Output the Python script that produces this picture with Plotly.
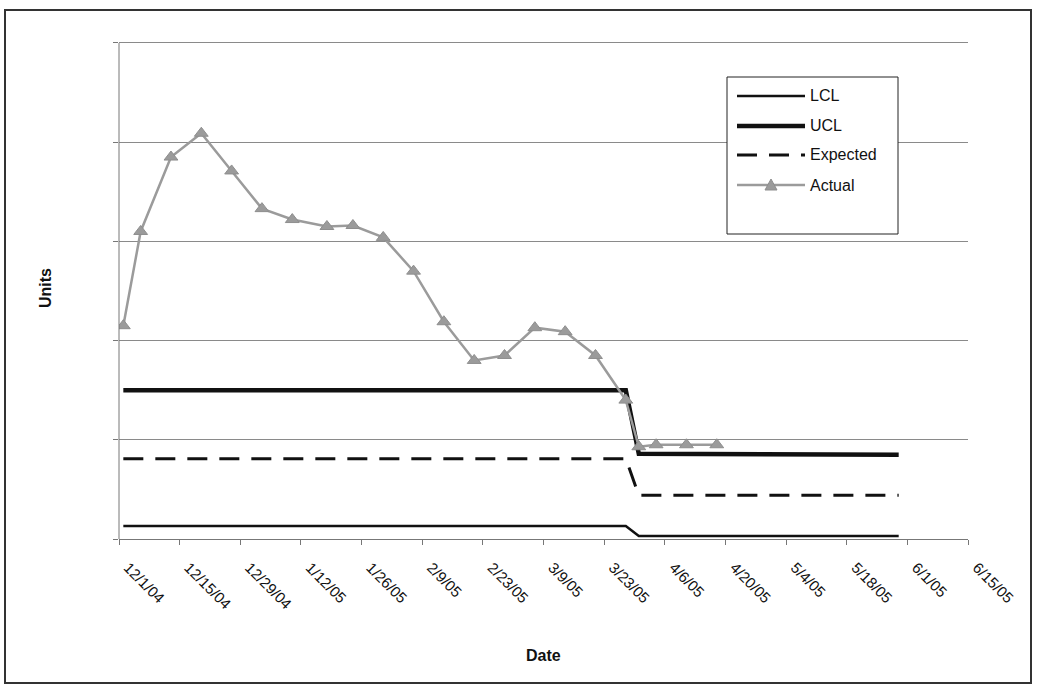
import plotly.graph_objects as go

# Weekly actual units
actual_dates = [
    "2004-12-02", "2004-12-06", "2004-12-13", "2004-12-20", "2004-12-27",
    "2005-01-03", "2005-01-10", "2005-01-18", "2005-01-24", "2005-01-31",
    "2005-02-07", "2005-02-14", "2005-02-21", "2005-02-28", "2005-03-07",
    "2005-03-14", "2005-03-21", "2005-03-28", "2005-03-31", "2005-04-04",
    "2005-04-11", "2005-04-18",
]
actual_units = [
    215, 310, 385, 409, 371,
    333, 322, 315, 316, 304,
    270, 219, 180, 185, 213,
    209, 185, 140, 93, 95,
    95, 95,
]

# Control limits and expected level (step change at end of March)
limit_dates = ["2004-12-02", "2005-03-28", "2005-03-31", "2005-05-30"]
lcl_units = [13, 13, 3, 3]
ucl_units = [150, 150, 86, 85]
expected_units = [81, 81, 44, 44]

tick_start = "2004-12-01"
x_end = "2005-06-15"
y_ticks = [0, 100, 200, 300, 400, 500]
y_top = 505

W, H = 1040, 694
L, R, T, B = 119, 72, 38, 155
pw, ph = W - L - R, H - T - B


def px(x):
    return (x - L) / pw


def py(y):
    return (H - B - y) / ph


FONT = "Liberation Sans, Arial, sans-serif"
GREY = "#9b9b9b"
AXIS = "#777777"

fig = go.Figure()
fig.add_trace(go.Scatter(x=limit_dates, y=lcl_units, name="LCL", mode="lines",
                         line=dict(color="#111111", width=2.5)))
fig.add_trace(go.Scatter(x=limit_dates, y=ucl_units, name="UCL", mode="lines",
                         line=dict(color="#111111", width=4.5)))
fig.add_trace(go.Scatter(x=limit_dates, y=expected_units, name="Expected", mode="lines",
                         line=dict(color="#111111", width=3, dash="20px,12px")))
fig.add_trace(go.Scatter(x=actual_dates, y=actual_units, name="Actual", mode="lines+markers",
                         line=dict(color=GREY, width=2.5),
                         marker=dict(symbol="triangle-up", size=12, color=GREY,
                                     line=dict(color="#8e8e8e", width=1))))

fig.update_layout(
    width=W, height=H,
    margin=dict(l=L, r=R, t=T, b=B, pad=0),
    paper_bgcolor="white", plot_bgcolor="white",
    showlegend=False,
    font=dict(family=FONT, size=14, color="#111111"),
)
fig.update_xaxes(
    type="date", range=[tick_start, x_end],
    tick0=tick_start, dtick=14 * 86400000, tickformat="%-m/%-d/%y",
    tickangle=45, ticks="outside", ticklen=5, tickcolor=AXIS,
    ticklabelstandoff=8, ticklabelshift=9,
    showline=True, linecolor=AXIS, linewidth=1,
    showgrid=False, zeroline=False,
    tickfont=dict(family=FONT, size=15, color="#111111"),
)
fig.update_yaxes(
    range=[0, y_top], tickvals=y_ticks, showticklabels=False,
    ticks="outside", ticklen=5, tickcolor=AXIS,
    showline=False,
    showgrid=True, gridcolor="#8a8a8a", gridwidth=1, zeroline=False,
)

# Axis titles
fig.add_annotation(text="<b>Date</b>", x=px(543), y=py(655), xref="paper", yref="paper",
                   xanchor="center", yanchor="middle",
                   showarrow=False, font=dict(family=FONT, size=16, color="#111111"))
fig.add_annotation(text="<b>Units</b>", x=px(45), y=py(288), xref="paper", yref="paper",
                   xanchor="center", yanchor="middle",
                   showarrow=False, textangle=-90, font=dict(family=FONT, size=16, color="#111111"))

shapes = []
# Value axis line, running up to the top gridline only
shapes.append(dict(type="line", xref="paper", yref="y", x0=0, x1=0,
                   y0=y_ticks[0], y1=y_ticks[-1], line=dict(color=AXIS, width=1)))
# Outer chart frame
shapes.append(dict(type="rect", xref="paper", yref="paper",
                   x0=px(5), x1=px(1031), y0=py(683), y1=py(10),
                   line=dict(color="#333333", width=2), layer="below"))

# Legend box with line samples
lx0, lx1, ly0, ly1 = 727, 898, 77, 234
shapes.append(dict(type="rect", xref="paper", yref="paper",
                   x0=px(lx0), x1=px(lx1), y0=py(ly1), y1=py(ly0),
                   fillcolor="white", line=dict(color="#222222", width=1)))
rows = [96, 126, 155, 185]
styles = [
    dict(color="#111111", width=2.5),
    dict(color="#111111", width=4.5),
    dict(color="#111111", width=3, dash="20px,12px"),
    dict(color=GREY, width=2.5),
]
names = [tr.name for tr in fig.data]
for yrow, st, nm in zip(rows, styles, names):
    shapes.append(dict(type="line", xref="paper", yref="paper",
                       x0=px(737), x1=px(805), y0=py(yrow), y1=py(yrow), line=st))
    fig.add_annotation(text=nm, x=px(808), y=py(yrow), xref="paper", yref="paper",
                       xanchor="left", yanchor="middle", showarrow=False,
                       font=dict(family=FONT, size=16, color="#111111"))
# marker on the Actual sample
shapes.append(dict(type="path", xref="paper", yref="paper",
                   path="M {a},{b} L {c},{d} L {e},{f} Z".format(
                       a=px(765), b=py(rows[3] + 5), c=px(771), d=py(rows[3] - 6),
                       e=px(777), f=py(rows[3] + 5)),
                   fillcolor=GREY, line=dict(color="#8e8e8e", width=1)))
fig.update_layout(shapes=shapes)

fig.write_html("out.html")
